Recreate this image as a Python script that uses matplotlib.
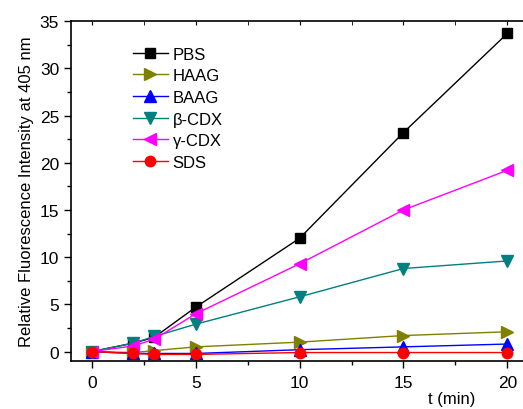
import matplotlib.pyplot as plt
from matplotlib.ticker import MultipleLocator

t = [0, 2, 3, 5, 10, 15, 20]
pbs = [0, 0.9, 1.5, 4.7, 12.0, 23.2, 33.7]
haag = [0, -0.1, 0.1, 0.5, 1.0, 1.7, 2.1]
baag = [0, -0.2, -0.2, -0.2, 0.2, 0.5, 0.8]
bcdx = [0, 0.9, 1.6, 2.9, 5.8, 8.8, 9.6]
gcdx = [0, 0.6, 1.3, 4.0, 9.3, 15.0, 19.2]
sds = [0, -0.2, -0.3, -0.3, -0.1, -0.1, -0.1]

plt.rcParams['font.family'] = ['Liberation Sans', 'DejaVu Sans']

fig = plt.figure(figsize=(5.23, 4.10), dpi=100)
ax = fig.add_axes([0.1358, 0.117, 0.874, 0.829])

ax.plot(t, pbs, color='black', marker='s', ms=6.5, lw=1, label='PBS')
ax.plot(t, haag, color='#808000', marker='>', ms=8.5, lw=1, label='HAAG')
ax.plot(t, baag, color='#0000FF', marker='^', ms=8.5, lw=1, label='BAAG')
ax.plot(t, bcdx, color='#008080', marker='v', ms=8.5, lw=1, label='β-CDX')
ax.plot(t, gcdx, color='#FF00FF', marker='<', ms=8.5, lw=1, label='γ-CDX')
ax.plot(t, sds, color='#FF0000', marker='o', ms=7.5, lw=1, label='SDS')

ax.set_xlim(-1, 21)
ax.set_ylim(-1, 35)
ax.xaxis.set_major_locator(MultipleLocator(5))
ax.xaxis.set_minor_locator(MultipleLocator(2.5))
ax.yaxis.set_major_locator(MultipleLocator(5))
ax.yaxis.set_minor_locator(MultipleLocator(2.5))
ax.tick_params(which='both', direction='out', labelsize=12.5, width=1)
ax.tick_params(which='major', length=5)
ax.tick_params(which='minor', length=3)
ax.tick_params(axis='x', pad=5)
ax.spines['right'].set_visible(False)
for s in ['left', 'bottom', 'top']:
    ax.spines[s].set_linewidth(1.2)

# top axis ticks pointing inward
sec = ax.secondary_xaxis('top')
sec.xaxis.set_major_locator(MultipleLocator(5))
sec.xaxis.set_minor_locator(MultipleLocator(2.5))
sec.tick_params(which='both', direction='in', labeltop=False, length=3)
sec.spines['top'].set_visible(False)

ax.set_ylabel('Relative Fluorescence Intensity at 405 nm', fontsize=12)
fig.text(0.864, 0.015, 't (min)', fontsize=12, ha='center')

ax.legend(loc='upper left', bbox_to_anchor=(0.135, 0.925), frameon=False,
          fontsize=12, handlelength=2.1, handletextpad=0.3, labelspacing=0.4,
          borderaxespad=0, borderpad=0)

fig.savefig('out.png', dpi=100)
